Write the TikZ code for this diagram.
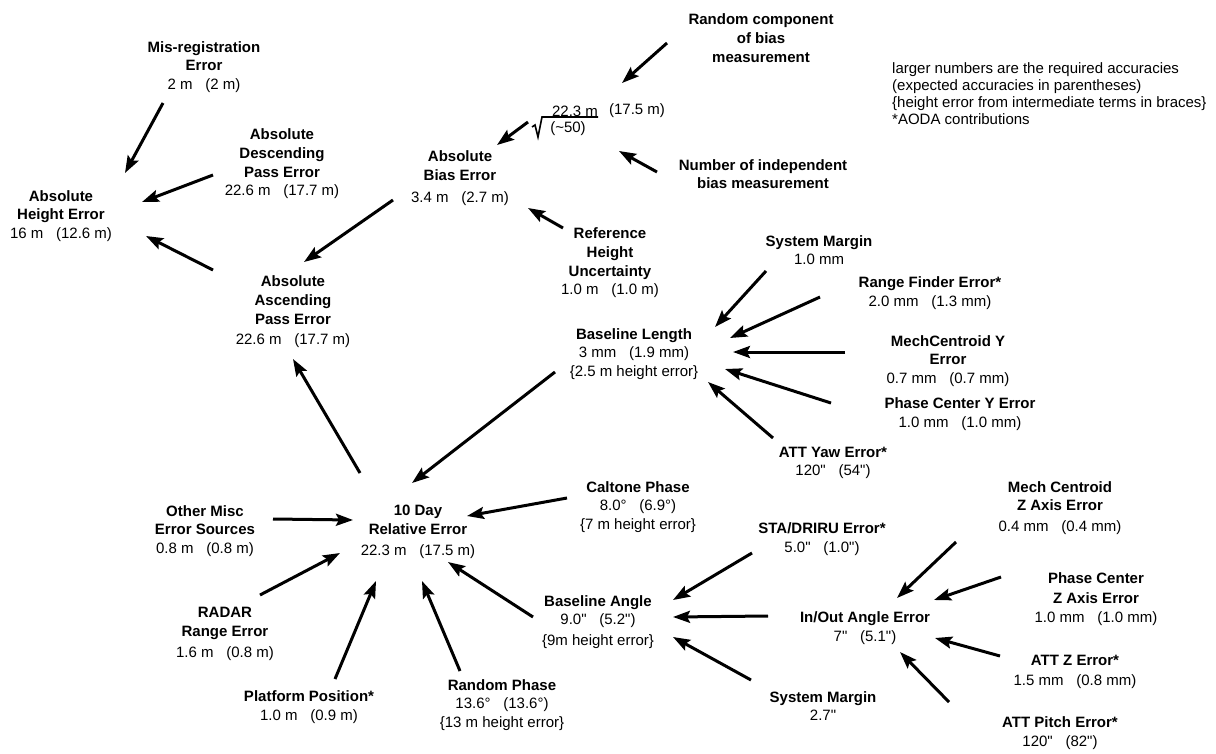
\documentclass[tikz,border=0pt]{standalone}
\usepackage{fontspec}
\setmainfont{Liberation Sans}
\usetikzlibrary{arrows.meta}
\newcommand{\mygap}{\hspace{0.85em}}
\newcommand{\arcs}{\textquotedbl}
\begin{document}
\begin{tikzpicture}[x=1pt,y=-1pt,
  lbl/.style={align=center, font=\fontsize{15}{18.7}\selectfont, inner sep=0pt},
  legend/.style={align=left, font=\fontsize{15}{17}\selectfont, inner sep=0pt, anchor=north west},
  arr/.style={line width=3pt, -{Stealth[length=17pt,width=12pt,inset=3pt]}}]
\useasboundingbox (0,0) rectangle (1216,753);

% ---------- nodes ----------
\node[lbl] (absh) at (61,216) {\textbf{Absolute}\\\textbf{Height Error}\\16 m\mygap(12.6 m)};
\node[lbl] (misreg) at (204,67) {\textbf{Mis-registration}\\\textbf{Error}\\2 m\mygap(2 m)};
\node[lbl] (desc) at (282,164) {\textbf{Absolute}\\\textbf{Descending}\\\textbf{Pass Error}\\22.6 m\mygap(17.7 m)};
\node[lbl] (asc) at (293,312) {\textbf{Absolute}\\\textbf{Ascending}\\\textbf{Pass Error}\\[2pt]22.6 m\mygap(17.7 m)};
\node[lbl] (bias) at (460,178) {\textbf{Absolute}\\\textbf{Bias Error}\\[3pt]3.4 m\mygap(2.7 m)};
\node[lbl] (rand) at (761,38) {\textbf{Random component}\\\textbf{of bias}\\\textbf{measurement}};
\node[lbl] (num) at (763,174) {\textbf{Number of independent}\\\textbf{bias measurement}};
\node[lbl] (ref) at (610,263) {\textbf{Reference}\\\textbf{Height}\\\textbf{Uncertainty}\\1.0 m\mygap(1.0 m)};
\node[lbl] (bl) at (634,354) {\textbf{Baseline Length}\\3 mm\mygap(1.9 mm)\\\{2.5 m height error\}};
\node[lbl] (sm1) at (819,250) {\textbf{System Margin}\\1.0 mm};
\node[lbl] (rf) at (930,293) {\textbf{Range Finder Error*}\\2.0 mm\mygap(1.3 mm)};
\node[lbl] (mcy) at (948,361) {\textbf{MechCentroid Y}\\\textbf{Error}\\0.7 mm\mygap(0.7 mm)};
\node[lbl] (pcy) at (960,414) {\textbf{Phase Center Y Error}\\1.0 mm\mygap(1.0 mm)};
\node[lbl] (yaw) at (833,463) {\textbf{ATT Yaw Error*}\\120\arcs\mygap(54\arcs)};
\node[lbl] (day) at (418,532) {\textbf{10 Day}\\\textbf{Relative Error}\\[3pt]22.3 m\mygap(17.5 m)};
\node[lbl] (misc) at (205,531) {\textbf{Other Misc}\\\textbf{Error Sources}\\0.8 m\mygap(0.8 m)};
\node[lbl] (radar) at (225,634) {\textbf{RADAR}\\\textbf{Range Error}\\[2pt]1.6 m\mygap(0.8 m)};
\node[lbl] (plat) at (309,707) {\textbf{Platform Position*}\\1.0 m\mygap(0.9 m)};
\node[lbl] (rphase) at (502,705) {\textbf{Random Phase}\\13.6°\mygap(13.6°)\\\{13 m height error\}};
\node[lbl] (cal) at (638,507) {\textbf{Caltone Phase}\\8.0°\mygap(6.9°)\\\{7 m height error\}};
\node[lbl] (ba) at (598,622) {\textbf{Baseline Angle}\\9.0\arcs\mygap(5.2\arcs)\\[2pt]\{9m height error\}};
\node[lbl] (sta) at (822,539) {\textbf{STA/DRIRU Error*}\\5.0\arcs\mygap(1.0\arcs)};
\node[lbl] (inout) at (865,628) {\textbf{In/Out Angle Error}\\7\arcs\mygap(5.1\arcs)};
\node[lbl] (sm2) at (823,706) {\textbf{System Margin}\\2.7\arcs};
\node[lbl] (mcz) at (1060,508) {\textbf{Mech Centroid}\\\textbf{Z Axis Error}\\[2pt]0.4 mm\mygap(0.4 mm)};
\node[lbl] (pcz) at (1096,599) {\textbf{Phase Center}\\[2pt]\textbf{Z Axis Error}\\1.0 mm\mygap(1.0 mm)};
\node[lbl] (attz) at (1075,672) {\textbf{ATT Z Error*}\\[2pt]1.5 mm\mygap(0.8 mm)};
\node[lbl] (pitch) at (1060,733) {\textbf{ATT Pitch Error*}\\120\arcs\mygap(82\arcs)};

% square-root term
\node[lbl] (sqnum) at (575,111) {22.3 m};
\node[lbl] (sqexp) at (637,111) {(17.5 m)};
\node[lbl] (sqden) at (568,129) {(\textasciitilde50)};
\draw[line width=1.6pt] (532,127) -- (535,125) -- (538,137) -- (542,117) -- (598,117);

% legend
\node[legend] (leg) at (892,62) {larger numbers are the required accuracies\\(expected accuracies in parentheses)\\\{height error from intermediate terms in braces\}\\*AODA contributions};

% ---------- connector end points ----------
\coordinate (misreg-o) at (163,103);  \coordinate (absh-i1) at (125,173);
\coordinate (desc-o) at (213,175);    \coordinate (absh-i2) at (142,202);
\coordinate (asc-o) at (213,270);     \coordinate (absh-i3) at (146,236);
\coordinate (bias-o) at (393,200);    \coordinate (asc-i1) at (304,262);
\coordinate (day-o) at (360,473);     \coordinate (asc-i2) at (293,359);
\coordinate (sq-o) at (528,122);      \coordinate (bias-i1) at (497,145);
\coordinate (rand-o) at (667,43);     \coordinate (sq-i1) at (622,83);
\coordinate (num-o) at (657,172);     \coordinate (sq-i2) at (619,151);
\coordinate (ref-o) at (563,228);     \coordinate (bias-i2) at (528,208);
\coordinate (sm1-o) at (766,271);     \coordinate (bl-i1) at (715,327);
\coordinate (rf-o) at (820,297);      \coordinate (bl-i2) at (730,338);
\coordinate (mcy-o) at (845,352);     \coordinate (bl-i3) at (733,352);
\coordinate (pcy-o) at (831,403);     \coordinate (bl-i4) at (725,369);
\coordinate (yaw-o) at (773,438);     \coordinate (bl-i5) at (708,382);
\coordinate (bl-o) at (555,372);      \coordinate (day-i1) at (412,483);
\coordinate (misc-o) at (273,519);    \coordinate (day-i2) at (353,520);
\coordinate (cal-o) at (567,498);     \coordinate (day-i3) at (467,516);
\coordinate (radar-o) at (260,595);   \coordinate (day-i4) at (340,553);
\coordinate (plat-o) at (335,679);    \coordinate (day-i5) at (376,581);
\coordinate (rphase-o) at (460,671);  \coordinate (day-i6) at (422,581);
\coordinate (ba-o) at (533,617);      \coordinate (day-i7) at (448,562);
\coordinate (sta-o) at (752,553);     \coordinate (ba-i1) at (673,600);
\coordinate (inout-o) at (768,616);   \coordinate (ba-i2) at (673,617);
\coordinate (sm2-o) at (751,680);     \coordinate (ba-i3) at (673,637);
\coordinate (mcz-o) at (956,542);     \coordinate (inout-i1) at (897,598);
\coordinate (pcz-o) at (1001,577);    \coordinate (inout-i2) at (934,600);
\coordinate (attz-o) at (1000,656);   \coordinate (inout-i3) at (935,638);
\coordinate (pitch-o) at (949,702);   \coordinate (inout-i4) at (900,652);

% ---------- connectors ----------
\draw[arr] (misreg-o) -- (absh-i1);
\draw[arr] (desc-o) -- (absh-i2);
\draw[arr] (asc-o) -- (absh-i3);
\draw[arr] (bias-o) -- (asc-i1);
\draw[arr] (day-o) -- (asc-i2);
\draw[arr] (sq-o) -- (bias-i1);
\draw[arr] (rand-o) -- (sq-i1);
\draw[arr] (num-o) -- (sq-i2);
\draw[arr] (ref-o) -- (bias-i2);
\draw[arr] (sm1-o) -- (bl-i1);
\draw[arr] (rf-o) -- (bl-i2);
\draw[arr] (mcy-o) -- (bl-i3);
\draw[arr] (pcy-o) -- (bl-i4);
\draw[arr] (yaw-o) -- (bl-i5);
\draw[arr] (bl-o) -- (day-i1);
\draw[arr] (misc-o) -- (day-i2);
\draw[arr] (cal-o) -- (day-i3);
\draw[arr] (radar-o) -- (day-i4);
\draw[arr] (plat-o) -- (day-i5);
\draw[arr] (rphase-o) -- (day-i6);
\draw[arr] (ba-o) -- (day-i7);
\draw[arr] (sta-o) -- (ba-i1);
\draw[arr] (inout-o) -- (ba-i2);
\draw[arr] (sm2-o) -- (ba-i3);
\draw[arr] (mcz-o) -- (inout-i1);
\draw[arr] (pcz-o) -- (inout-i2);
\draw[arr] (attz-o) -- (inout-i3);
\draw[arr] (pitch-o) -- (inout-i4);
\end{tikzpicture}
\end{document}
